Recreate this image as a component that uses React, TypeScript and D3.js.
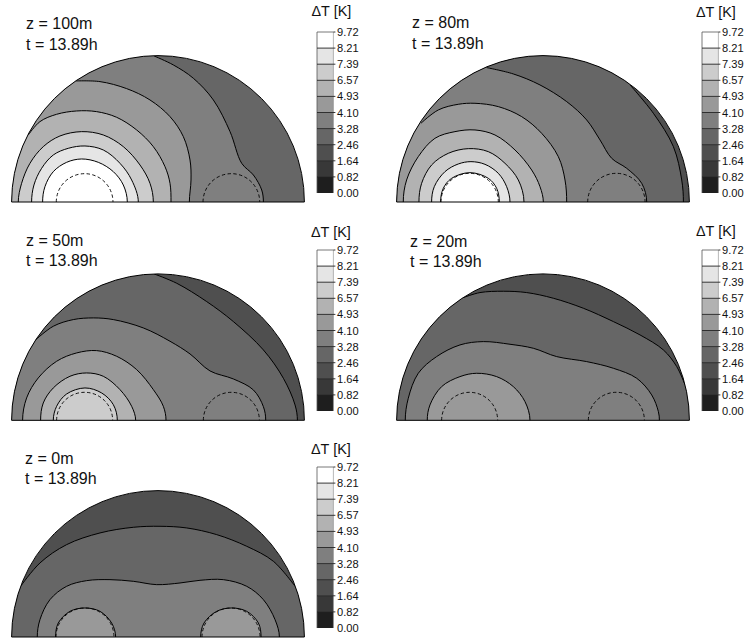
import React from "react";
import * as d3 from "d3";

type Pt = [number, number];
type Contour = { level: number; pts: Pt[] };

// Tick labels of the shared colour bar, top to bottom
const tickLabels = ["9.72", "8.21", "7.39", "6.57", "4.93", "4.10", "3.28", "2.46", "1.64", "0.82", "0.00"];
// Band colours, top band (8.21-9.72) to bottom band (0.00-0.82)
const bandColors = ["#ffffff", "#e5e5e5", "#cccccc", "#b2b2b2", "#999999", "#7f7f7f", "#666666", "#4f4f4f", "#383838", "#1e1e1e"];

const depths = ["z = 100m", "z = 80m", "z = 50m", "z = 20m", "z = 0m"];
const timeLabel = "t = 13.89h";
const unitLabel = "ΔT [K]";

// Isotherms in disc units (radius 439), x measured from the disc centre, y up from the base line
const contours100: Contour[] = [
  { level: 5, pts: [[-12, 438], [46, 411], [106, 371], [166, 306], [216, 211], [251, 116], [286, 81], [311, 36], [316, 0]] },
  { level: 4, pts: [[-246, 363], [-174, 361], [-94, 340], [-24, 306], [36, 256], [76, 196], [96, 126], [99, 66], [94, 0]] },
  { level: 3, pts: [[-389, 201], [-354, 241], [-304, 263], [-244, 273], [-184, 271], [-124, 254], [-64, 216], [-14, 166], [21, 106], [36, 56], [39, 0]] },
  { level: 2, pts: [[-419, 0], [-409, 56], [-384, 116], [-344, 166], [-294, 198], [-229, 211], [-164, 201], [-104, 166], [-54, 111], [-24, 56], [-14, 0]] },
  { level: 1, pts: [[-379, 0], [-372, 51], [-349, 101], [-314, 141], [-269, 161], [-219, 168], [-164, 156], [-114, 116], [-79, 66], [-59, 0]] },
  { level: 0, pts: [[-346, 0], [-339, 46], [-314, 91], [-274, 119], [-229, 129], [-179, 119], [-134, 91], [-104, 51], [-92, 0]] },
];
const contours80: Contour[] = [
  { level: 6, pts: [[261, 351], [331, 266], [391, 166], [416, 66], [421, 0]] },
  { level: 5, pts: [[-169, 403], [-89, 384], [-9, 351], [71, 301], [131, 246], [171, 186], [206, 131], [251, 101], [296, 56], [311, 0]] },
  { level: 4, pts: [[-366, 236], [-314, 276], [-254, 293], [-204, 296], [-134, 286], [-64, 256], [-4, 206], [46, 136], [66, 66], [71, 0]] },
  { level: 3, pts: [[-419, 0], [-409, 66], [-374, 136], [-324, 191], [-264, 211], [-204, 216], [-144, 201], [-84, 156], [-34, 96], [-9, 46], [1, 0]] },
  { level: 2, pts: [[-372, 0], [-364, 56], [-334, 111], [-284, 146], [-224, 160], [-164, 151], [-114, 116], [-74, 66], [-57, 0]] },
  { level: 1, pts: [[-334, 0], [-326, 46], [-294, 91], [-254, 114], [-216, 121], [-174, 113], [-134, 86], [-109, 46], [-99, 0]] },
  { level: 0, pts: [[-307, 0], [-299, 41], [-274, 71], [-219, 88], [-164, 71], [-139, 41], [-131, 0]] },
];
const contours50: Contour[] = [
  { level: 6, pts: [[-12, 439], [56, 411], [146, 356], [226, 296], [316, 211], [376, 126], [411, 46], [418, 0]] },
  { level: 5, pts: [[-366, 242], [-314, 282], [-254, 302], [-194, 307], [-134, 302], [-44, 277], [36, 237], [96, 199], [156, 148], [226, 124], [286, 91], [316, 41], [323, 0]] },
  { level: 4, pts: [[-406, 0], [-394, 67], [-359, 127], [-304, 177], [-244, 202], [-184, 209], [-124, 192], [-64, 152], [-14, 92], [16, 42], [24, 0]] },
  { level: 3, pts: [[-352, 0], [-344, 52], [-314, 97], [-264, 132], [-214, 142], [-164, 132], [-114, 92], [-79, 42], [-67, 0]] },
  { level: 2, pts: [[-314, 0], [-304, 42], [-274, 79], [-219, 97], [-169, 82], [-134, 47], [-122, 0]] },
];
const contours20: Contour[] = [
  { level: 6, pts: [[-239, 368], [-189, 383], [-119, 387], [-49, 383], [31, 366], [121, 336], [211, 296], [291, 256], [361, 211], [401, 161], [426, 106]] },
  { level: 5, pts: [[-413, 0], [-404, 66], [-374, 141], [-319, 191], [-249, 226], [-179, 236], [-99, 228], [-29, 216], [41, 191], [131, 176], [211, 156], [281, 126], [326, 76], [346, 26], [349, 0]] },
  { level: 4, pts: [[-347, 0], [-339, 46], [-304, 101], [-249, 131], [-199, 141], [-139, 131], [-89, 101], [-54, 56], [-39, 0]] },
];
const contours0: Contour[] = [
  { level: 6, pts: [[-412, 152], [-354, 222], [-274, 277], [-174, 312], [-74, 329], [6, 332], [86, 327], [176, 307], [266, 272], [346, 227], [411, 152]] },
  { level: 5, pts: [[-362, 0], [-354, 52], [-324, 112], [-274, 152], [-214, 169], [-144, 172], [-74, 167], [-4, 157], [66, 162], [126, 170], [196, 172], [266, 152], [316, 112], [351, 52], [364, 0]] },
  { level: 4, pts: [[-307, 0], [-299, 42], [-264, 77], [-219, 87], [-174, 77], [-139, 42], [-127, 0]] },
  { level: 4, pts: [[128, 0], [138, 42], [176, 77], [221, 87], [266, 77], [301, 42], [309, 0]] },
];
const panelContours = [contours100, contours80, contours50, contours20, contours0];
// Band filling the disc behind the isotherms, per panel
const backgroundLevels = [6, 7, 7, 7, 7];
// Dashed well circles, disc units: centre offset and radius, per panel
const wellOffsets = [220, 220, 220, 220, 219];
const wellRadii = [85, 86, 84, 84, 87];

// Layout: disc centre, base line, captions, colour bar
const layouts = [
  { cx: 158, base: 202, tx: 26, zy: 29, ty: 50, ux: 311.5, uy: 16, bx: 317, by: 32 },
  { cx: 543, base: 202, tx: 412, zy: 28, ty: 48.5, ux: 696, uy: 17, bx: 702, by: 32 },
  { cx: 158, base: 420.3, tx: 26, zy: 246, ty: 266, ux: 311, uy: 236.5, bx: 317, by: 250 },
  { cx: 543, base: 420.3, tx: 410, zy: 247, ty: 267, ux: 696, uy: 236, bx: 702, by: 250 },
  { cx: 158, base: 637, tx: 25, zy: 463.5, ty: 484, ux: 311, uy: 454, bx: 317, by: 467 },
];
const DISC = 439;
const RADIUS = 146.4;
const BAR_W = 16.4;
const BAR_H = 161;

const FONT = "'Liberation Sans', Arial, sans-serif";

// Contours meet the base line at right angles: continue them by reflection below it
function extend(pts: Pt[]): Pt[] {
  const out = [...pts];
  if (pts[0][1] === 0) out.unshift([pts[1][0], -pts[1][1]]);
  const n = pts.length;
  if (pts[n - 1][1] === 0) out.push([pts[n - 2][0], -pts[n - 2][1]]);
  return out;
}

function Panel({ index }: { index: number }) {
  const l = layouts[index];
  const x = d3.scaleLinear().domain([-DISC, DISC]).range([l.cx - RADIUS, l.cx + RADIUS]);
  const y = d3.scaleLinear().domain([0, DISC]).range([l.base, l.base - RADIUS]);
  const line = d3.line<Pt>().x((d) => x(d[0])).y((d) => y(d[1])).curve(d3.curveCatmullRom.alpha(0.5));
  const clipId = `disc-${index}`;
  const disc = `M${x(-DISC)},${y(0)}A${RADIUS},${RADIUS} 0 0 1 ${x(DISC)},${y(0)}Z`;

  const closure = (pts: Pt[]) => {
    const [sx, sy] = pts[0];
    const ey = pts[pts.length - 1][1];
    const far = DISC * 1.4;
    const low = -200;
    const seg: Pt[] = [[far, ey], [far, low], [-far, low]];
    if (sy > 0) seg.push([-far, far], [sx, far]);
    return seg.map((p) => `L${x(p[0])},${y(p[1])}`).join("") + "Z";
  };

  const ticks = d3.scalePoint<string>().domain(tickLabels).range([l.by, l.by + BAR_H]);
  const offset = wellOffsets[index];
  const r = wellRadii[index] * (RADIUS / DISC);

  return (
    <g>
      <clipPath id={clipId}><path d={disc} /></clipPath>
      <g clipPath={`url(#${clipId})`}>
        <path d={disc} fill={bandColors[backgroundLevels[index]]} />
        {panelContours[index].map((c, i) => {
          const e = extend(c.pts);
          return <path key={i} d={(line(e) as string) + closure(e)} fill={bandColors[c.level]} />;
        })}
        {panelContours[index].map((c, i) => (
          <path key={i} d={line(extend(c.pts)) as string} fill="none" stroke="#000" strokeWidth={1} />
        ))}
      </g>
      {[-offset, offset].map((o) => (
        <path
          key={o}
          d={`M${x(o) - r},${y(0)}A${r},${r} 0 0 1 ${x(o) + r},${y(0)}`}
          fill="none"
          stroke="#000"
          strokeWidth={0.9}
          strokeDasharray="3.4 2.4"
        />
      ))}
      <path d={disc} fill="none" stroke="#000" strokeWidth={1} />

      <text x={l.tx} y={l.zy} fontSize={16} fill="#111">{depths[index]}</text>
      <text x={l.tx} y={l.ty} fontSize={16} fill="#111">{timeLabel}</text>
      <text x={l.ux} y={l.uy} fontSize={14.4} fill="#111">{unitLabel}</text>

      {bandColors.map((col, i) => (
        <rect
          key={col}
          x={l.bx}
          y={ticks(tickLabels[i]) as number}
          width={BAR_W}
          height={(ticks(tickLabels[i + 1]) as number) - (ticks(tickLabels[i]) as number)}
          fill={col}
        />
      ))}
      <path
        d={`M${l.bx},${l.by + BAR_H}V${l.by}H${l.bx + BAR_W}`}
        fill="none"
        stroke="#555"
        strokeWidth={0.8}
      />
      <path d={`M${l.bx + BAR_W},${l.by}V${l.by + BAR_H}`} fill="none" stroke="#888" strokeWidth={0.6} />
      {tickLabels.map((t) => {
        const ty = ticks(t) as number;
        return (
          <g key={t}>
            {t !== "0.00" && t !== "9.72" && (
              <line x1={l.bx} x2={l.bx + BAR_W + 2} y1={ty} y2={ty} stroke="#222" strokeWidth={0.9} />
            )}
            {t === "9.72" && (
              <line x1={l.bx + BAR_W} x2={l.bx + BAR_W + 2} y1={ty} y2={ty} stroke="#222" strokeWidth={0.9} />
            )}
            <text x={l.bx + BAR_W + 3.7} y={ty + 4} fontSize={11.1} fill="#111">{t}</text>
          </g>
        );
      })}
    </g>
  );
}

export default function App() {
  return (
    <svg
      width={747}
      height={638}
      viewBox="0 0 747 638"
      style={{ position: "absolute", left: 0, top: 0, background: "#fff" }}
      fontFamily={FONT}
    >
      {depths.map((_, i) => (
        <Panel key={i} index={i} />
      ))}
    </svg>
  );
}
